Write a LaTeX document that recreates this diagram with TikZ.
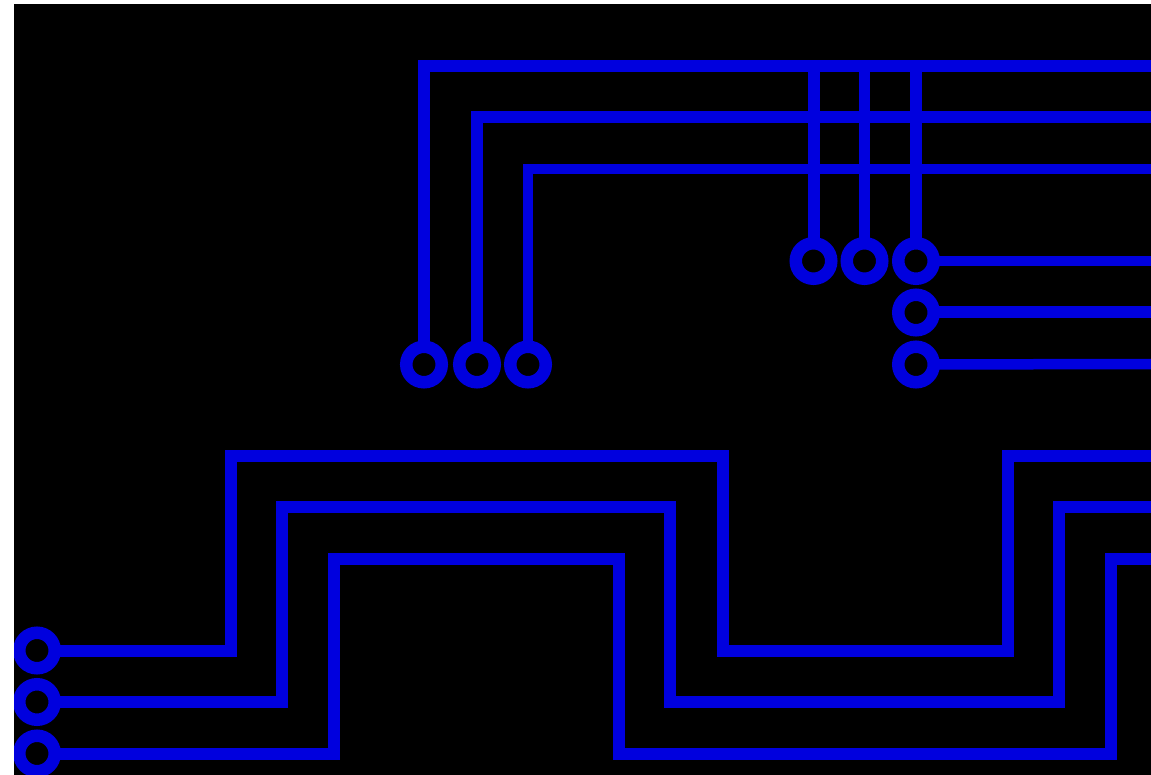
\documentclass[tikz,border=0pt]{standalone}
\usepackage{xcolor}
\usepackage{tikz}
\definecolor{copper}{RGB}{0,0,222}

\begin{document}
\begin{tikzpicture}[
    x=1pt, y=-1pt,
    pad/.style={circle, draw=copper, fill=black, line width=12.5pt, minimum size=35.5pt, inner sep=0pt, outer sep=0pt},
    trace/.style={draw=copper, line width=12pt},
    thin trace/.style={draw=copper, line width=10.5pt}
]
    \useasboundingbox (0,0) rectangle (1151,775);
    \fill[white] (0,0) rectangle (1151,775);
    \clip (14,4) rectangle (1151,775);
    \fill[black] (14,4) rectangle (1151,775);

    % Bus ends on the right
    \coordinate (busA) at (1151,66.5);
    \coordinate (busB) at (1151,117.5);
    \coordinate (busC) at (1151,169);
    \coordinate (stubA) at (1151,261);
    \coordinate (stubB) at (1151,312.5);
    \coordinate (stubC) at (1151,364);
    \coordinate (edgeA) at (1151,456);
    \coordinate (edgeB) at (1151,507);
    \coordinate (edgeC) at (1151,559);

    % Bends of the lower traces
    \coordinate (riseA) at (231,456);
    \coordinate (riseB) at (282,507);
    \coordinate (riseC) at (334,559);
    \coordinate (dropA) at (723,650.5);
    \coordinate (dropB) at (670,702);
    \coordinate (dropC) at (619,753.5);
    \coordinate (backA) at (1008,456);
    \coordinate (backB) at (1059,507);
    \coordinate (backC) at (1110.5,559);

    % Middle row of pads
    \node[pad] (padA) at (424,364.5) {};
    \node[pad] (padB) at (477,364.5) {};
    \node[pad] (padC) at (528,364.5) {};

    % Pads on the right
    \node[pad] (padD) at (813.5,261) {};
    \node[pad] (padE) at (864.5,261) {};
    \node[pad] (padF) at (916,261) {};
    \node[pad] (padG) at (916,312.5) {};
    \node[pad] (padH) at (916,364.5) {};

    % Pads on the left
    \node[pad] (padI) at (37,650.5) {};
    \node[pad] (padJ) at (37,702) {};
    \node[pad] (padK) at (37,753.5) {};

    % Upper traces
    \draw[trace] (padA) |- (busA);
    \draw[trace] (padB) |- (busB);
    \draw[thin trace] (padC) |- (busC);
    \draw[trace] (padD) -- (padD |- busA);
    \draw[thin trace] (padE) -- (padE |- busA);
    \draw[trace] (padF) -- (padF |- busA);
    \draw[thin trace] (padF) -- (stubA);
    \draw[trace] (padG) -- (stubB);
    \draw[thin trace] (padH) -- (stubC);

    % Lower traces
    \draw[trace] (padI) -| (riseA) -| (dropA) -| (backA) -- (edgeA);
    \draw[trace] (padJ) -| (riseB) -| (dropB) -| (backB) -- (edgeB);
    \draw[trace] (padK) -| (riseC) -| (dropC) -| (backC) -- (edgeC);
\end{tikzpicture}
\end{document}
